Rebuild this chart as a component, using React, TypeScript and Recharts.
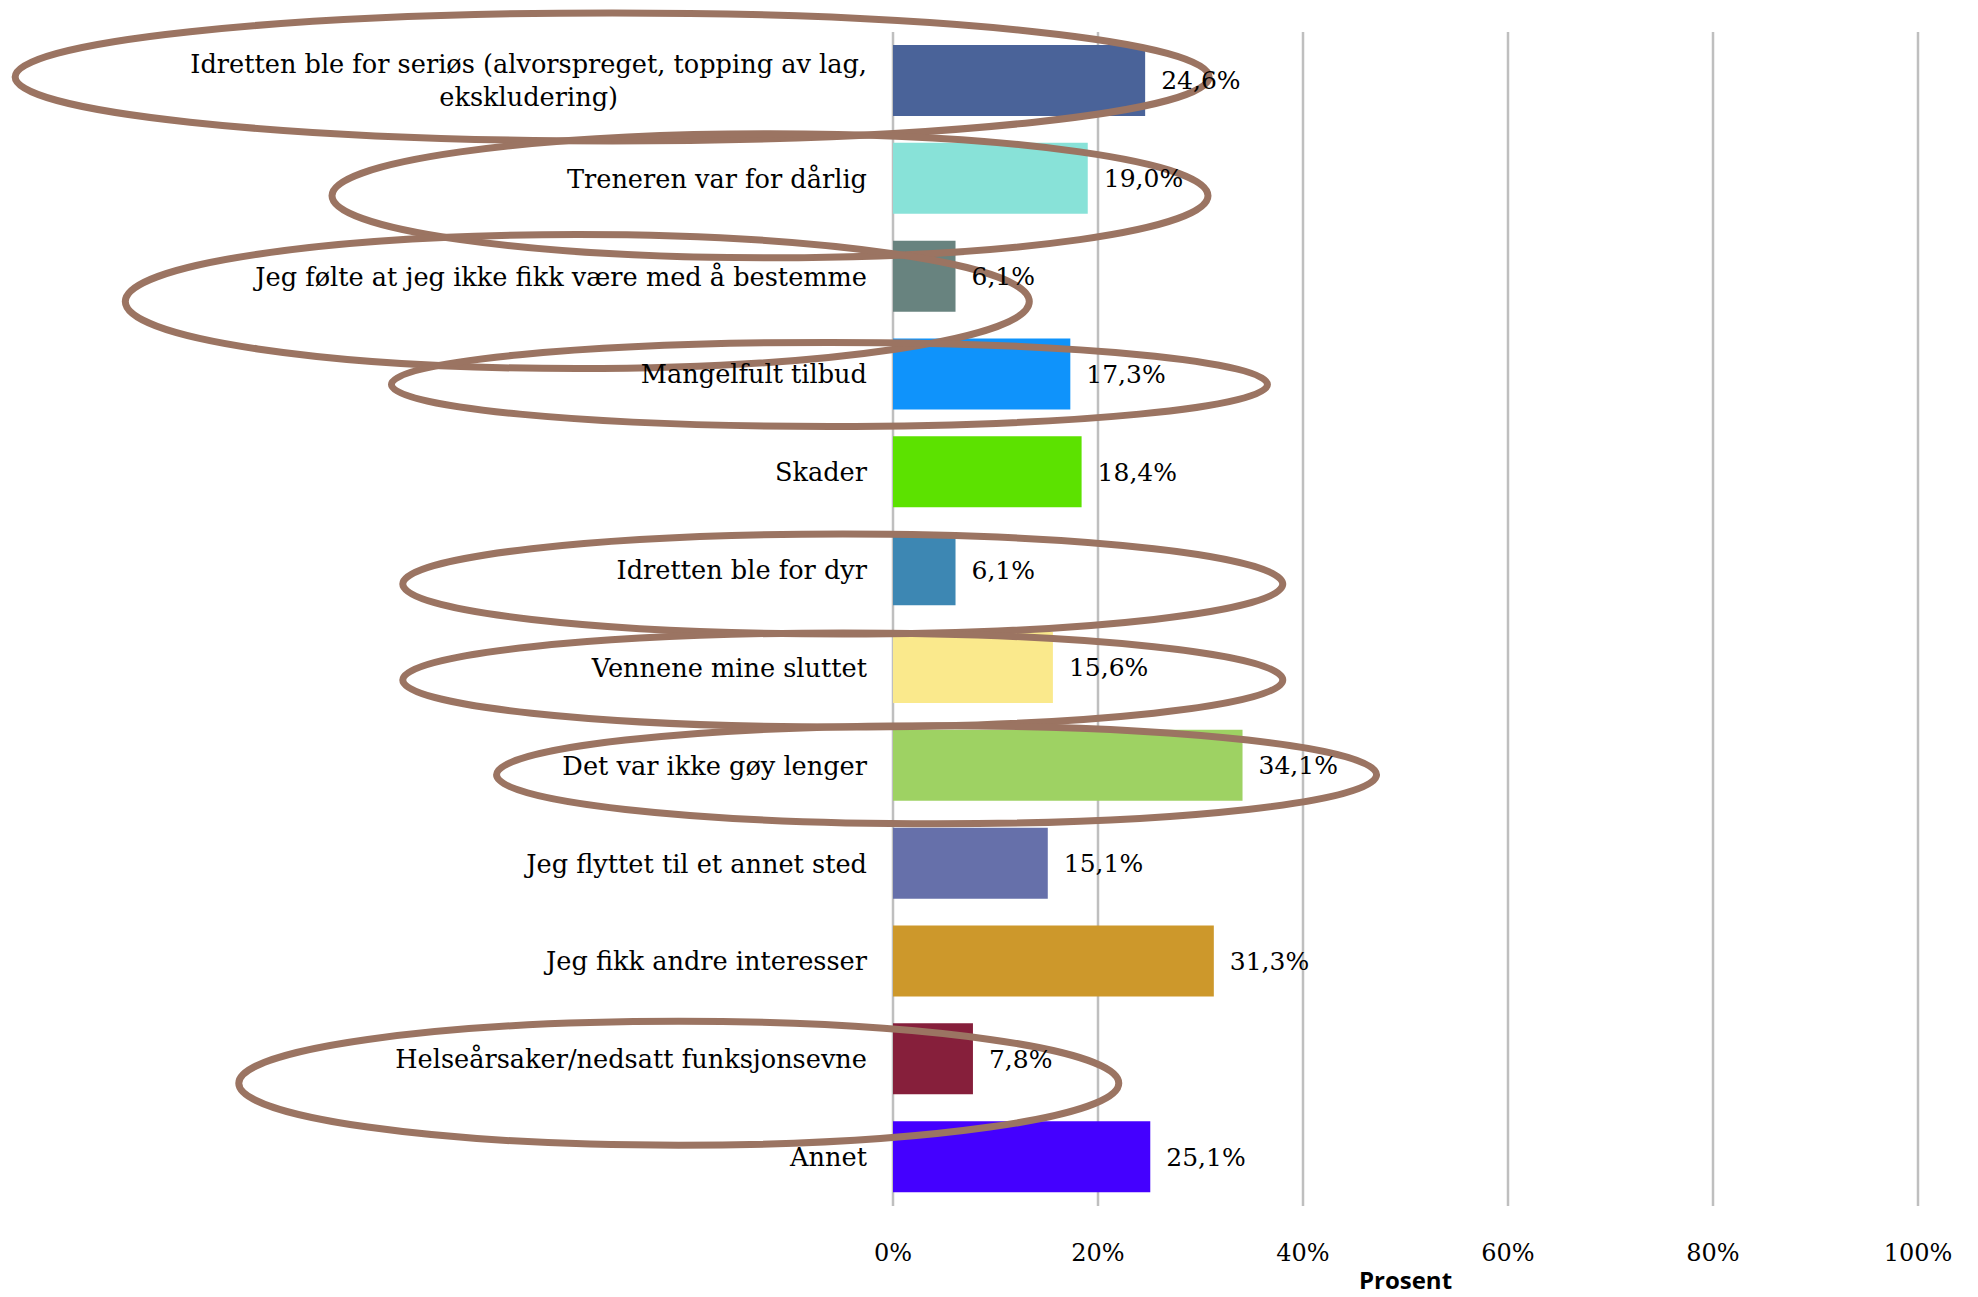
import { useLayoutEffect, useRef, useState } from "react";
import {
  Bar,
  BarChart,
  CartesianGrid,
  Cell,
  LabelList,
  ReferenceDot,
  XAxis,
  YAxis,
} from "recharts";

const reasons = [
  "Idretten ble for seriøs (alvorspreget, topping av lag, ekskludering)",
  "Treneren var for dårlig",
  "Jeg følte at jeg ikke fikk være med å bestemme",
  "Mangelfult tilbud",
  "Skader",
  "Idretten ble for dyr",
  "Vennene mine sluttet",
  "Det var ikke gøy lenger",
  "Jeg flyttet til et annet sted",
  "Jeg fikk andre interesser",
  "Helseårsaker/nedsatt funksjonsevne",
  "Annet",
];

const shares = [24.6, 19.0, 6.1, 17.3, 18.4, 6.1, 15.6, 34.1, 15.1, 31.3, 7.8, 25.1];

const barColors = [
  "#4a6399",
  "#88e2d8",
  "#68837f",
  "#0f93fb",
  "#5ce200",
  "#3d87b3",
  "#fae98c",
  "#9ed263",
  "#6670aa",
  "#cd982b",
  "#861f3b",
  "#4400ff",
];

const xTicks = [0, 20, 40, 60, 80, 100];

// hand-drawn rings in the original, anchored to a category (center in % units, offset/radii in px)
const rings = [
  { reason: reasons[0], at: -27.4, dy: -4, rx: 597, ry: 64 },
  { reason: reasons[1], at: -12.0, dy: 17, rx: 438, ry: 62 },
  { reason: reasons[2], at: -30.8, dy: 25, rx: 452, ry: 67 },
  { reason: reasons[3], at: -6.2, dy: 10, rx: 438, ry: 42 },
  { reason: reasons[5], at: -4.9, dy: 14, rx: 440, ry: 50 },
  { reason: reasons[6], at: -4.9, dy: 12, rx: 440, ry: 47 },
  { reason: reasons[7], at: 4.25, dy: 9, rx: 440, ry: 49 },
  { reason: reasons[10], at: -20.9, dy: 24, rx: 440, ry: 62 },
];

const data = reasons.map((reason, i) => ({ reason, share: shares[i] }));

const chartConfig = {
  serif: "'DejaVu Serif', serif",
  labelSize: 25.6,
  valueSize: 25,
  tickSize: 24,
  gridStroke: "#bfbfbf",
  ringStroke: "#9b7462",
  wrapChars: 56,
  lineHeight: 33,
};

function wrap(text: string, max: number) {
  const lines: string[] = [];
  let cur = "";
  for (const word of text.split(" ")) {
    const next = cur ? cur + " " + word : word;
    if (next.length > max && cur) {
      lines.push(cur);
      cur = word;
    } else {
      cur = next;
    }
  }
  if (cur) lines.push(cur);
  return lines;
}

function ReasonTick(props: any) {
  const { x, y, payload } = props;
  const lines = wrap(String(payload.value), chartConfig.wrapChars);
  const firstRef = useRef<SVGTextElement>(null);
  const [firstWidth, setFirstWidth] = useState(0);

  useLayoutEffect(() => {
    if (firstRef.current) setFirstWidth(firstRef.current.getComputedTextLength());
  }, [payload.value]);

  const top = y - ((lines.length - 1) * chartConfig.lineHeight) / 2;
  return (
    <g>
      {lines.map((line, i) => (
        <text
          key={i}
          ref={i === 0 ? firstRef : undefined}
          x={i === 0 ? x : x - firstWidth / 2}
          y={top + i * chartConfig.lineHeight}
          dy="0.35em"
          textAnchor={i === 0 ? "end" : "middle"}
          fontFamily={chartConfig.serif}
          fontSize={chartConfig.labelSize}
          fill="#000"
        >
          {line}
        </text>
      ))}
    </g>
  );
}

function PercentTick(props: any) {
  const { x, y, payload } = props;
  return (
    <text
      x={x}
      y={y + 39}
      dy="0.35em"
      textAnchor="middle"
      fontFamily={chartConfig.serif}
      fontSize={chartConfig.tickSize}
      fill="#000"
    >
      {payload.value}%
    </text>
  );
}

function Ring(dy: number, rx: number, ry: number) {
  return (props: any) => (
    <ellipse
      cx={props.cx}
      cy={props.cy + dy}
      rx={rx}
      ry={ry}
      fill="none"
      stroke={chartConfig.ringStroke}
      strokeWidth={7}
    />
  );
}

export default function App() {
  return (
    <div style={{ position: "absolute", left: 0, top: 0, width: 1978, height: 1297, background: "#fff" }}>
      <BarChart
        width={1978}
        height={1297}
        data={data}
        layout="vertical"
        margin={{ top: 32, right: 60, bottom: 0, left: 0 }}
      >
        <CartesianGrid horizontal={false} stroke={chartConfig.gridStroke} strokeWidth={2.5} />
        <XAxis
          type="number"
          domain={[0, 100]}
          ticks={xTicks}
          height={91}
          axisLine={false}
          tickLine={false}
          tick={<PercentTick />}
          label={{
            value: "Prosent",
            position: "insideBottom",
            offset: 8,
            fill: "#000",
            fontFamily: "'Open Sans', sans-serif",
            fontWeight: 700,
            fontSize: 24,
          }}
        />
        <YAxis
          type="category"
          dataKey="reason"
          width={893}
          axisLine={false}
          tickLine={false}
          tickSize={0}
          tickMargin={26}
          interval={0}
          tick={<ReasonTick />}
        />
        <Bar dataKey="share" barSize={71} isAnimationActive={false}>
          {data.map((d, i) => (
            <Cell key={d.reason} fill={barColors[i]} />
          ))}
          <LabelList
            dataKey="share"
            position="right"
            offset={16}
            formatter={(v: any) => Number(v).toFixed(1).replace(".", ",") + "%"}
            fill="#000"
            fontFamily={chartConfig.serif}
            fontSize={chartConfig.valueSize}
          />
        </Bar>
        {rings.map((r) => (
          <ReferenceDot
            key={r.reason}
            x={r.at}
            y={r.reason}
            ifOverflow="visible"
            shape={Ring(r.dy, r.rx, r.ry)}
          />
        ))}
      </BarChart>
    </div>
  );
}
